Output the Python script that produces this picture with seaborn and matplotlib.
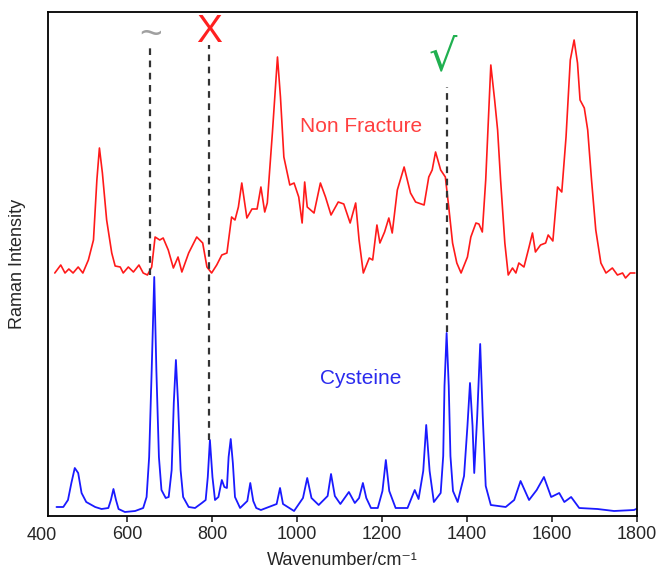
import numpy as np
import pandas as pd
import matplotlib.pyplot as plt
import seaborn as sns

# Non Fracture spectrum (offset upward)
red_wn = [430, 444, 454, 463, 473, 485, 496, 509, 521, 529, 535, 542, 552, 564, 572,
          584, 591, 603, 615, 628, 638, 648, 658, 666, 677, 685, 697, 709, 720, 729,
          745, 764, 778, 788, 799, 811, 823, 835, 846, 854, 862, 870, 882, 894, 906,
          915, 924, 930, 942, 954, 961, 969, 983, 993, 1004, 1012, 1018, 1024, 1040,
          1055, 1067, 1080, 1097, 1110, 1125, 1138, 1146, 1156, 1170, 1178, 1188, 1195,
          1206, 1216, 1224, 1236, 1252, 1267, 1279, 1299, 1310, 1318, 1326, 1338, 1349,
          1357, 1366, 1376, 1386, 1401, 1409, 1421, 1428, 1436, 1444, 1452, 1456, 1465,
          1472, 1479, 1489, 1497, 1507, 1515, 1522, 1534, 1546, 1554, 1561, 1573, 1585,
          1591, 1602, 1613, 1623, 1633, 1643, 1652, 1660, 1666, 1676, 1684, 1693, 1703,
          1715, 1727, 1742, 1754, 1766, 1773, 1784, 1795]
red_int = [243, 251, 243, 247, 243, 249, 243, 256, 276, 336, 368, 343, 296, 263, 250,
           249, 243, 249, 244, 251, 243, 241, 249, 279, 276, 278, 266, 248, 259, 244,
           263, 279, 273, 249, 243, 251, 261, 263, 299, 296, 309, 333, 298, 307, 307,
           329, 304, 313, 383, 459, 419, 359, 331, 333, 319, 293, 334, 309, 303,
           333, 319, 301, 314, 312, 293, 313, 276, 243, 258, 256, 291, 273,
           284, 298, 283, 326, 349, 323, 314, 311, 339, 346, 364, 346, 339,
           309, 273, 253, 243, 259, 279, 293, 292, 284, 336, 413, 451, 416,
           386, 336, 273, 241, 248, 243, 253, 249, 269, 283, 264, 271, 273,
           281, 275, 329, 324, 379, 456, 476, 453, 416, 408, 386, 336, 286,
           253, 243, 248, 241, 243, 238, 243, 243]

# Cysteine reference spectrum
blue_wn = [434, 450, 461, 469, 477, 485, 493, 504, 525, 540, 556, 562, 568, 574, 580,
           595, 619, 638, 646, 652, 658, 664, 669, 675, 681, 691, 698, 705, 710, 715,
           720, 726, 732, 745, 760, 776, 785, 790, 795, 801, 807, 815, 823, 829, 835,
           839, 844, 849, 854, 866, 883, 890, 897, 904, 915, 952, 960, 967, 993, 1014,
           1024, 1034, 1051, 1072, 1080, 1089, 1102, 1122, 1136, 1146, 1155, 1163, 1174,
           1190, 1201, 1209, 1217, 1232, 1260, 1277, 1286, 1297, 1304, 1312, 1322, 1338,
           1344, 1347, 1352, 1357, 1361, 1367, 1378, 1393, 1401, 1407, 1413, 1417, 1424,
           1431, 1437, 1444, 1456, 1491, 1511, 1526, 1546, 1564, 1581, 1598, 1617, 1629,
           1645, 1664, 1707, 1746, 1793, 1798]
blue_int = [9, 9, 16, 33, 48, 43, 23, 14, 9, 7, 8, 16, 27, 16, 7,
            4, 5, 8, 19, 59, 146, 239, 146, 59, 26, 18, 19, 46, 113, 156,
            113, 46, 19, 9, 8, 13, 16, 39, 76, 39, 16, 19, 36, 29, 28,
            59, 77, 53, 19, 8, 15, 33, 15, 8, 6, 12, 28, 12, 5, 18,
            38, 18, 11, 20, 42, 20, 12, 24, 13, 18, 33, 18, 8,
            8, 25, 56, 25, 8, 8, 26, 17, 45, 91, 45, 14, 23,
            60, 130, 183, 130, 60, 25, 14, 40, 90, 133, 90, 43, 100,
            172, 100, 30, 11, 9, 16, 35, 16, 26, 39, 19, 23, 14,
            19, 8, 7, 5, 6, 7]

# marked bands: position, dashed line top/bottom, symbol and colour
band_wn = [655, 794, 1352]
band_top = [471, 471, 429]
band_bottom = [241, 76, 184]
band_marks = ['~', 'X', '√']
band_colors = ['#a0a0a0', '#ff2020', '#20b050']

sns.set_style('ticks')
plt.rcParams['font.family'] = ['Liberation Sans', 'DejaVu Sans']

fig = plt.figure(figsize=(6.58, 5.70), dpi=100)
ax = fig.add_axes([48 / 658, 1 - 516 / 570, 589 / 658, 504 / 570])

sns.lineplot(x=red_wn, y=red_int, color='#ff1a1a', linewidth=1.2, ax=ax, sort=False)
sns.lineplot(x=blue_wn, y=blue_int, color='#1a1aff', linewidth=1.3, ax=ax, sort=False)

ax.vlines(band_wn, band_bottom, band_top, colors='#333333', linestyles=(0, (3, 2.5)),
          linewidth=1.6)
ax.text(band_wn[0], 480, band_marks[0], color=band_colors[0], fontsize=28,
        ha='center', va='center')
ax.text(band_wn[1], 484, band_marks[1], color=band_colors[1], fontsize=28,
        ha='center', va='center')
ax.text(band_wn[2] - 10, 458, band_marks[2], color=band_colors[2], fontsize=32,
        ha='center', va='center', family=['DejaVu Sans'])

ax.text(1150, 389, 'Non Fracture', color='#ff4040', fontsize=15, ha='center', va='center')
ax.text(1150, 137, 'Cysteine', color='#2a2aee', fontsize=15, ha='center', va='center')

ax.set_xlim(414, 1800)
ax.set_ylim(0, 504)
ax.set_xticks([600, 800, 1000, 1200, 1400, 1600, 1800])
ax.tick_params(axis='x', labelsize=13, length=4, width=1.2, direction='out')
ax.text(400, -0.021, '400', transform=ax.get_xaxis_transform(), fontsize=13,
        ha='center', va='top')
ax.set_yticks([])
for s in ax.spines.values():
    s.set_linewidth(1.3)
    s.set_color('black')
ax.set_xlabel('Wavenumber/cm⁻¹', fontsize=13, labelpad=6)
ax.set_ylabel('Raman Intensity', fontsize=13, labelpad=16)

plt.savefig('out.png', dpi=100)
